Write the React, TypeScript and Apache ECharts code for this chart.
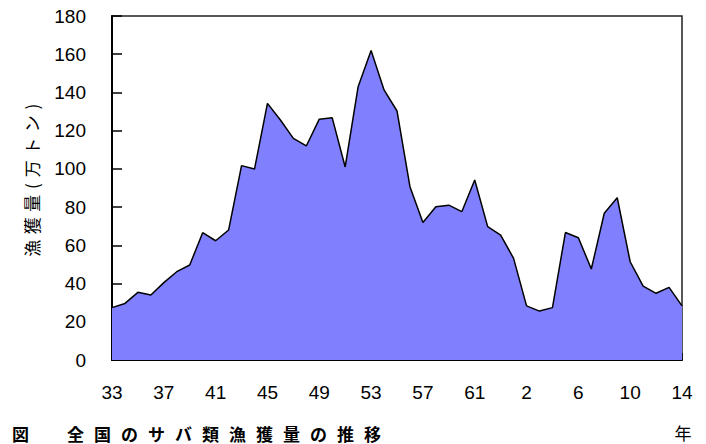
import React, { useEffect, useRef } from "react";
import * as echarts from "echarts";

const showaYears = Array.from({ length: 31 }, (_, i) => String(33 + i));
const heiseiYears = Array.from({ length: 14 }, (_, i) => String(1 + i));
const categories = [...showaYears, ...heiseiYears];

const catchValues = [
  27.4, 29.6, 35.4, 34.0, 40.5, 46.2, 49.7, 66.6, 62.4, 68.0,
  101.7, 99.9, 134.3, 125.6, 116.0, 112.0, 126.0, 126.7, 101.0, 143.0,
  161.9, 141.3, 130.3, 90.7, 71.9, 80.2, 81.0, 77.6, 94.2, 69.8,
  65.4, 53.2, 28.3, 25.6, 27.4, 66.7, 64.0, 47.6, 76.8, 84.9,
  51.4, 38.7, 34.9, 38.0, 28.3,
];

const yAxisName = "漁獲量(万トン)";
const figurePrefix = "図";
const figureTitle = "全国のサバ類漁獲量の推移";
const unitLabel = "年";

const CJK_FONT = "'Noto Sans CJK JP', sans-serif";
const NUM_FONT = "'Liberation Sans', Arial, sans-serif";

function spacedText(text: string, cjkStep: number, narrowStep: number) {
  // returns per-character offsets along the baseline, centred on 0
  const steps = text.split("").map((ch) => (/[()]/.test(ch) ? narrowStep : cjkStep));
  const total = steps.reduce((a, b) => a + b, 0);
  let pos = -total / 2;
  return text.split("").map((ch, i) => {
    const center = pos + steps[i] / 2;
    pos += steps[i];
    return { ch, center };
  });
}

export default function App() {
  const ref = useRef<HTMLDivElement>(null);
  useEffect(() => {
    document.body.style.margin = "0";
    if (!ref.current) return;
    const chart = echarts.init(ref.current, null, { renderer: "svg" });

    const titleChars = figureTitle.split("").map((ch, i) => ({
      type: "text",
      x: 67 + i * 27,
      y: 433,
      style: {
        text: ch,
        font: `bold 17px ${CJK_FONT}`,
        fill: "#000",
        verticalAlign: "middle",
      },
    }));

    const nameChars = spacedText(yAxisName, 22.5, 12).map(({ ch, center }) => ({
      type: "text",
      x: center,
      y: 0,
      style: {
        text: ch,
        font: `17px ${CJK_FONT}`,
        fill: "#000",
        align: "center",
        verticalAlign: "middle",
      },
    }));

    chart.setOption({
      animation: false,
      backgroundColor: "#fff",
      grid: {
        left: 112,
        right: 24,
        top: 16,
        bottom: 84,
        show: true,
        borderColor: "#222",
        borderWidth: 1.5,
        backgroundColor: "transparent",
      },
      xAxis: {
        type: "category",
        data: categories,
        boundaryGap: false,
        axisLine: { lineStyle: { color: "#000", width: 2 } },
        axisTick: {
          inside: true,
          length: 7,
          interval: 0,
          lineStyle: { color: "#000", width: 1.5 },
        },
        axisLabel: {
          interval: 3,
          margin: 23,
          fontSize: 19,
          fontFamily: NUM_FONT,
          color: "#000",
        },
        splitLine: { show: false },
      },
      yAxis: {
        type: "value",
        min: 0,
        max: 180,
        interval: 20,
        axisLine: { show: true, lineStyle: { color: "#000", width: 2 } },
        axisTick: {
          show: true,
          inside: true,
          length: 10,
          lineStyle: { color: "#000", width: 1.5 },
        },
        axisLabel: {
          margin: 26,
          fontSize: 19,
          fontFamily: NUM_FONT,
          color: "#000",
        },
        splitLine: { show: false },
      },
      series: [
        {
          type: "line",
          data: catchValues,
          symbol: "none",
          lineStyle: { color: "#000", width: 1.5 },
          areaStyle: { color: "#8080FF", opacity: 1 },
        },
      ],
      graphic: [
        {
          type: "group",
          x: 31,
          y: 180,
          rotation: Math.PI / 2,
          children: nameChars,
        },
        {
          type: "text",
          x: 12,
          y: 433,
          style: {
            text: figurePrefix,
            font: `bold 17px ${CJK_FONT}`,
            fill: "#000",
            verticalAlign: "middle",
          },
        },
        ...titleChars,
        {
          type: "text",
          x: 683,
          y: 432,
          style: {
            text: unitLabel,
            font: `17px ${CJK_FONT}`,
            fill: "#000",
            align: "center",
            verticalAlign: "middle",
          },
        },
      ],
    });
    return () => chart.dispose();
  }, []);
  return <div ref={ref} style={{ width: 706, height: 444 }} />;
}
